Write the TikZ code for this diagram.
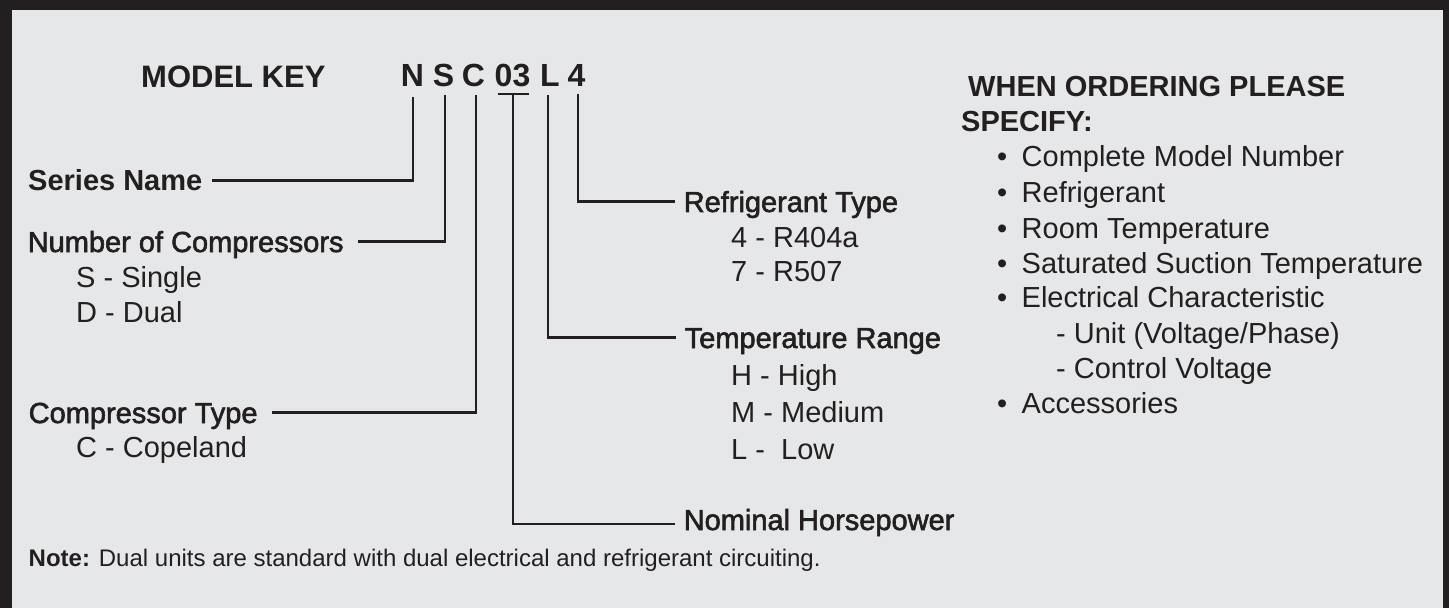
\documentclass[tikz,border=0pt]{standalone}
\usepackage{fontspec}
\setmainfont{Liberation Sans}
\newfontfamily\medfont[FakeBold=2]{Liberation Sans}
\definecolor{ink}{HTML}{231F20}
\definecolor{panel}{HTML}{E6E7E8}
\tikzset{
  keyletter/.style={anchor=base, inner sep=0pt, text depth=0pt, text=ink,
    font=\bfseries\fontsize{32bp}{38bp}\selectfont},
  titletext/.style={anchor=base west, inner sep=0pt, text=ink,
    font=\bfseries\fontsize{31bp}{37bp}\selectfont},
  boldlabel/.style={anchor=base west, inner sep=0pt, text height=20.8bp, text depth=0pt, text=ink,
    font=\bfseries\fontsize{29bp}{35bp}\selectfont},
  medlabel/.style={anchor=base west, inner sep=0pt, text height=20.8bp, text depth=0pt, text=ink,
    font=\medfont\fontsize{29bp}{35bp}\selectfont},
  itemtext/.style={anchor=base west, inner sep=0pt, text=ink,
    font=\fontsize{29bp}{35bp}\selectfont},
  headtext/.style={anchor=base west, inner sep=0pt, text=ink,
    font=\bfseries\fontsize{29bp}{35bp}\selectfont},
  notetext/.style={anchor=base west, inner sep=0pt, text=ink,
    font=\fontsize{24bp}{29bp}\selectfont},
  keyline/.style={draw=ink, line width=2.5bp},
}
\newcommand{\bulletitem}[1]{\makebox[24.5bp][l]{•}#1}
\begin{document}
\begin{tikzpicture}[x=1bp,y=-1bp]
\useasboundingbox (0,0) rectangle (1449,608);
\fill[panel] (0,0) rectangle (1449,608);
\fill[ink] (0,0) rectangle (1449,10);
\fill[ink] (0,0) rectangle (12,608);
\fill[ink] (1443,0) rectangle (1449,608);

% title and model key
\node[titletext] (title) at (141,88) {MODEL KEY};
\node[keyletter] (kN) at (412.5,87) {N};
\node[keyletter] (kS) at (443.5,87) {S};
\node[keyletter] (kC) at (473.5,87) {C};
\node[keyletter] (k03) at (512.5,87) {03};
\node[keyletter] (kL) at (550,87) {L};
\node[keyletter] (k4) at (576.5,87) {4};

% left labels
\node[boldlabel] (series) at (28,191) {Series Name};
\node[medlabel] (ncomp) at (27.5,252) {Number of Compressors};
\node[itemtext] (sSingle) at (76,287) {S - Single};
\node[itemtext] (dDual) at (76,322) {D - Dual};
\node[medlabel] (ctype) at (28.5,423) {Compressor Type};
\node[itemtext] (cCope) at (76,457) {C - Copeland};

% right labels
\node[medlabel] (refr) at (683.5,212) {Refrigerant Type};
\node[itemtext] (r404) at (731,247) {4 - R404a};
\node[itemtext] (r507) at (731,281) {7 - R507};
\node[medlabel] (temp) at (684.5,348) {Temperature Range};
\node[itemtext] (tHigh) at (731,385) {H - High};
\node[itemtext] (tMed) at (731,422) {M - Medium};
\node[itemtext] (tLow) at (731,459) {L -\ \ Low};
\node[medlabel] (nom) at (683.5,530) {Nominal Horsepower};

% connectors
\draw[keyline] ([xshift=3bp,yshift=-7bp]k03.south west) -- ([xshift=-2bp,yshift=-7bp]k03.south east);
\draw[keyline] ([xshift=0.5bp,yshift=-10bp]kN.south) |- ([xshift=9bp]series.east);
\draw[keyline] ([xshift=1.5bp,yshift=-8bp]kS.south) |- ([xshift=14bp]ncomp.east);
\draw[keyline] ([xshift=2.5bp,yshift=-8bp]kC.south) |- ([xshift=14bp]ctype.east);
\draw[keyline] ([xshift=0.5bp,yshift=-7bp]k03.south) |- ([xshift=-9bp,yshift=-4.5bp]nom.west);
\draw[keyline] ([xshift=-2bp,yshift=-8bp]kL.south) |- ([xshift=-9bp]temp.west);
\draw[keyline] ([xshift=1.5bp,yshift=-7bp]k4.south) |- ([xshift=-9bp]refr.west);

% ordering panel
\node[headtext] (when) at (968,97) {WHEN ORDERING PLEASE};
\node[headtext] (specify) at (961,132) {SPECIFY:};
\node[itemtext] (o1) at (997,167) {\bulletitem{Complete Model Number}};
\node[itemtext] (o2) at (997,203) {\bulletitem{Refrigerant}};
\node[itemtext] (o3) at (997,238) {\bulletitem{Room Temperature}};
\node[itemtext] (o4) at (997,273) {\bulletitem{Saturated Suction Temperature}};
\node[itemtext] (o5) at (997,307.5) {\bulletitem{Electrical Characteristic}};
\node[itemtext] (o5a) at (1056,343) {- Unit (Voltage/Phase)};
\node[itemtext] (o5b) at (1056,378) {- Control Voltage};
\node[itemtext] (o6) at (997,413) {\bulletitem{Accessories}};

% note
\node[notetext] (note) at (28.5,566.5) {\textbf{Note:} Dual units are standard with dual electrical and refrigerant circuiting.};
\end{tikzpicture}
\end{document}
